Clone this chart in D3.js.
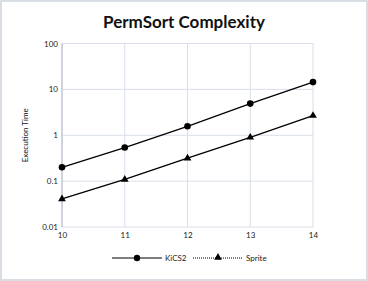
<!DOCTYPE html>
<html><head><meta charset="utf-8">
<script src="https://cdn.jsdelivr.net/npm/d3@7"></script>
<style>body{margin:0;background:#fff}svg{display:block;font-family:Lato,"Open Sans",sans-serif}</style>
</head><body>
<svg id="c" width="368" height="281"></svg>
<script>
const xValues = [10, 11, 12, 13, 14];
const kics2 = [0.2, 0.54, 1.57, 4.9, 14.4];
const sprite = [0.041, 0.109, 0.316, 0.9, 2.68];
const yTicks = [0.01, 0.1, 1, 10, 100];
const yTickLabels = ["0.01", "0.1", "1", "10", "100"];

const svg = d3.select("#c");
svg.append("rect").attr("x",1).attr("y",1).attr("width",366).attr("height",279)
  .attr("fill","#fff").attr("stroke","#d9dde4").attr("stroke-width",2);

const m = {l:62, r:313, t:43.5, b:227};
const x = d3.scaleLinear().domain([10,14]).range([m.l, m.r]);
const y = d3.scaleLog().domain([0.01,100]).range([m.b, m.t]);

svg.append("text").attr("x",184).attr("y",28).attr("text-anchor","middle")
  .attr("font-size",17).attr("font-weight","bold").attr("fill","#111").text("PermSort Complexity");

// grid
svg.append("g").selectAll("line").data(yTicks).join("line")
  .attr("x1",m.l).attr("x2",m.r).attr("y1",d=>y(d)).attr("y2",d=>y(d))
  .attr("stroke","#d9dee8").attr("stroke-width",1);
svg.append("g").selectAll("line").data(xValues).join("line")
  .attr("x1",d=>x(d)).attr("x2",d=>x(d)).attr("y1",m.t).attr("y2",m.b)
  .attr("stroke","#d9dee8").attr("stroke-width",1);
svg.append("line").attr("x1",m.l).attr("x2",m.l).attr("y1",m.t).attr("y2",m.b)
  .attr("stroke","#c4cad6").attr("stroke-width",1.5);

// axes
const yAxis = d3.axisLeft(y).tickValues(yTicks).tickFormat((d,i)=>yTickLabels[i]).tickSize(0).tickPadding(4);
const gy = svg.append("g").attr("transform",`translate(${m.l},0)`).call(yAxis);
gy.select(".domain").remove();
gy.selectAll("text").attr("font-size",8).attr("fill","#222").attr("font-family","Lato, sans-serif");
const xAxis = d3.axisBottom(x).tickValues(xValues).tickFormat(d3.format("d")).tickSize(0).tickPadding(5);
const gx = svg.append("g").attr("transform",`translate(0,${m.b})`).call(xAxis);
gx.select(".domain").remove();
gx.selectAll("text").attr("font-size",8).attr("fill","#222").attr("font-family","Lato, sans-serif");

svg.append("text").attr("transform",`translate(28,${(m.t+m.b)/2}) rotate(-90)`)
  .attr("text-anchor","middle").attr("font-size",8).attr("fill","#111").text("Execution Time");

const line = d3.line().x((d,i)=>x(xValues[i])).y(d=>y(d));
svg.append("path").datum(kics2).attr("d",line).attr("fill","none").attr("stroke","#000").attr("stroke-width",1.3);
svg.append("path").datum(sprite).attr("d",line).attr("fill","none").attr("stroke","#000").attr("stroke-width",1.3);
svg.append("g").selectAll("circle").data(kics2).join("circle")
  .attr("cx",(d,i)=>x(xValues[i])).attr("cy",d=>y(d)).attr("r",3.3).attr("fill","#000");
const tri = d3.symbol().type(d3.symbolTriangle).size(26);
svg.append("g").selectAll("path").data(sprite).join("path")
  .attr("d",tri).attr("transform",(d,i)=>`translate(${x(xValues[i])},${y(d)})`).attr("fill","#000");

// legend
const ly = 258;
svg.append("line").attr("x1",112).attr("x2",162).attr("y1",ly).attr("y2",ly).attr("stroke","#000").attr("stroke-width",1.2);
svg.append("circle").attr("cx",137).attr("cy",ly).attr("r",3.2).attr("fill","#000");
svg.append("text").attr("x",165).attr("y",ly+3).attr("font-size",8).attr("fill","#222").text("KiCS2");
svg.append("line").attr("x1",193).attr("x2",243).attr("y1",ly).attr("y2",ly).attr("stroke","#000").attr("stroke-width",1).attr("stroke-dasharray","1,1");
svg.append("path").attr("d",tri).attr("transform",`translate(218,${ly-0.5})`).attr("fill","#000");
svg.append("text").attr("x",246).attr("y",ly+3).attr("font-size",8).attr("fill","#222").text("Sprite");
</script>
</body></html>
